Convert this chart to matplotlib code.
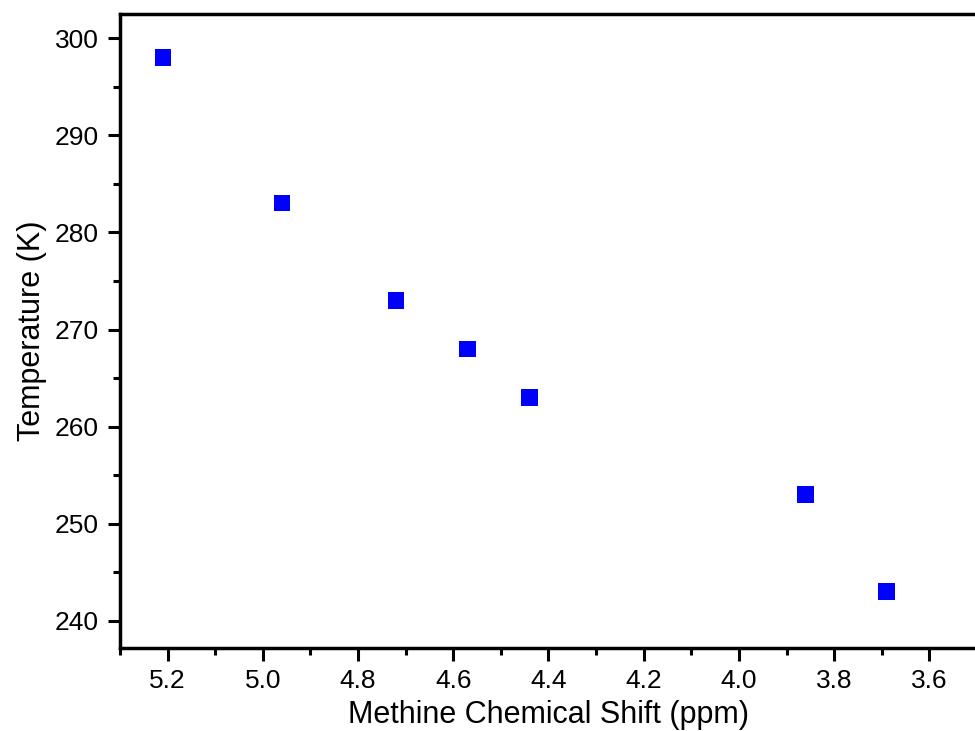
import numpy as np
import matplotlib.pyplot as plt
from matplotlib.ticker import MultipleLocator

# Data
shift_ppm = [5.21, 4.96, 4.72, 4.57, 4.44, 3.86, 3.69]
temperature_k = [298, 283, 273, 268, 263, 253, 243]

plt.rcParams['font.family'] = ['Liberation Sans', 'DejaVu Sans']

fig = plt.figure(figsize=(9.75, 7.31), dpi=100)
ax = fig.add_axes([0.123, 0.1135, 0.879, 0.8675])

ax.scatter(shift_ppm, temperature_k, marker='s', s=140, color='#0000ff',
           edgecolors='none', zorder=3)

ax.set_xlim(5.3, 3.5)
ax.set_ylim(237.2, 302.5)

ax.xaxis.set_major_locator(MultipleLocator(0.2))
ax.xaxis.set_minor_locator(MultipleLocator(0.1))
ax.yaxis.set_major_locator(MultipleLocator(10))
ax.yaxis.set_minor_locator(MultipleLocator(5))
ax.xaxis.set_major_formatter(plt.FormatStrFormatter('%.1f'))

ax.tick_params(which='major', direction='out', length=9, width=2.2,
               labelsize=19, pad=6, colors='black')
ax.tick_params(which='minor', direction='out', length=5, width=2.2)
ax.tick_params(top=False, right=False, which='both')

for side in ['left', 'bottom', 'top']:
    ax.spines[side].set_linewidth(2.5)
ax.spines['right'].set_visible(False)

ax.set_xlabel('Methine Chemical Shift (ppm)', fontsize=22, labelpad=5)
ax.set_ylabel('Temperature (K)', fontsize=22, labelpad=6)

plt.savefig('out.png', dpi=100)
